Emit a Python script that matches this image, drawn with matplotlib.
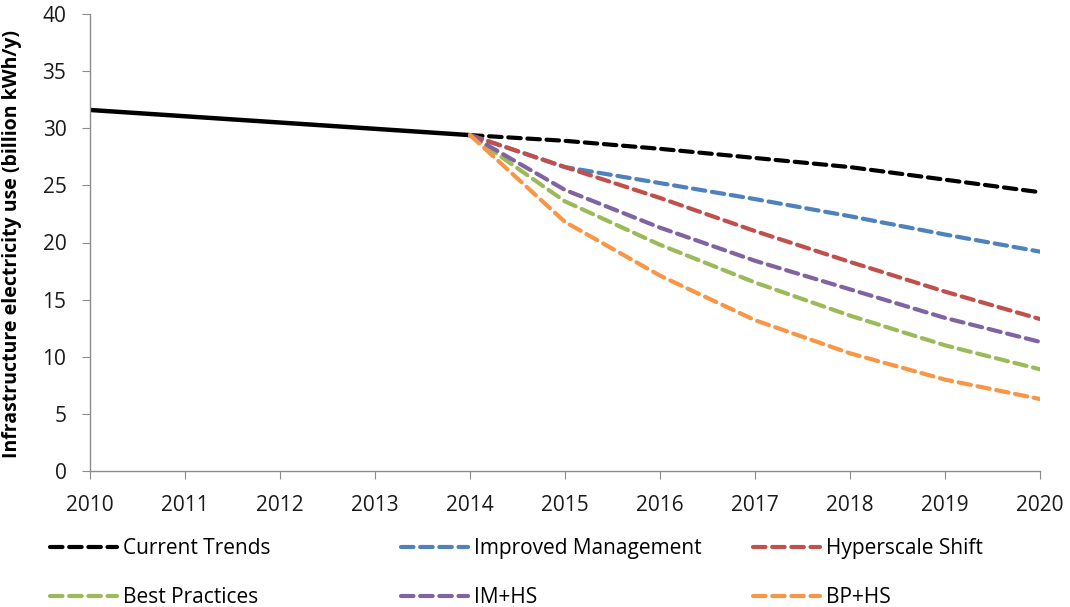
import matplotlib.pyplot as plt
import numpy as np

plt.rcParams['font.family'] = ['Open Sans', 'DejaVu Sans']

hist_years = [2010, 2011, 2012, 2013, 2014]
hist_vals = [31.6, 31.05, 30.5, 29.95, 29.4]

proj_years = [2014, 2015, 2016, 2017, 2018, 2019, 2020]
current_trends = [29.4, 28.9, 28.2, 27.4, 26.6, 25.5, 24.4]
improved_mgmt = [29.4, 26.6, 25.2, 23.8, 22.3, 20.7, 19.2]
hyperscale = [29.4, 26.6, 23.9, 21.0, 18.3, 15.7, 13.3]
im_hs = [29.4, 24.6, 21.3, 18.4, 15.9, 13.4, 11.3]
best_practices = [29.4, 23.6, 19.8, 16.5, 13.6, 11.0, 8.9]
bp_hs = [29.4, 21.8, 17.1, 13.2, 10.3, 8.0, 6.3]

labels = ["Current Trends", "Improved Management", "Hyperscale Shift",
          "Best Practices", "IM+HS", "BP+HS"]
series = [current_trends, improved_mgmt, hyperscale, best_practices, im_hs, bp_hs]
colors = ["#000000", "#4F81BD", "#C0504D", "#9BBB59", "#8064A2", "#F79646"]

fig = plt.figure(figsize=(10.7, 6.07), dpi=100)
ax = fig.add_axes([90 / 1070, 1 - 471 / 607, 950 / 1070, 457 / 607])

ax.plot(hist_years, hist_vals, color="black", lw=3.2, solid_capstyle="butt")

handles = []
for vals, col, lab in zip(series, colors, labels):
    h, = ax.plot(proj_years, vals, color=col, lw=3.0, dashes=(3, 1.6),
                 dash_capstyle="round", label=lab)
    handles.append(h)

ax.set_xlim(2010, 2020)
ax.set_ylim(0, 40)
ax.set_xticks(np.arange(2010, 2021, 1))
ax.set_yticks(np.arange(0, 41, 5))
ax.tick_params(axis="both", labelsize=15, color="#8c8c8c", length=6,
               direction="out", labelcolor="#1a1a1a")
ax.tick_params(axis="y", pad=11)
ax.tick_params(axis="x", pad=11)
for s in ["top", "right"]:
    ax.spines[s].set_visible(False)
for s in ["left", "bottom"]:
    ax.spines[s].set_color("#8c8c8c")
    ax.spines[s].set_linewidth(1.0)
ax.set_ylabel("Infrastructure electricity use (billion kWh/y)", fontsize=14,
              fontweight="bold")
ax.yaxis.set_label_coords(-68 / 950, 0.497)

# three single-column legends so the columns line up with the reference
col_x = [50 / 1070, 401 / 1070, 753 / 1070]
for i in range(3):
    hs = [handles[i], handles[i + 3]]
    fig.legend(hs, [h.get_label() for h in hs], loc="upper left",
               bbox_to_anchor=(col_x[i], 1 - 538 / 607), frameon=False,
               fontsize=15, handlelength=3.2, handletextpad=0.3,
               labelspacing=1.35, borderaxespad=0, borderpad=0)

fig.savefig("out.png", dpi=100)
